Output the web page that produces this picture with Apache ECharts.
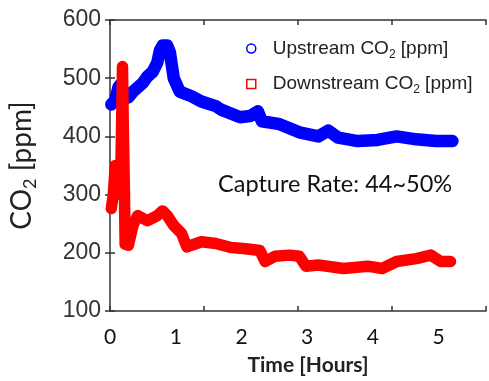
<!DOCTYPE html>
<html>
<head>
<meta charset="utf-8">
<script src="https://cdn.jsdelivr.net/npm/echarts@6.0.0/dist/echarts.min.js"></script>
<style>
  html, body { margin: 0; padding: 0; background: #fff; }
  #chart { width: 489px; height: 381px; }
</style>
</head>
<body>
<div id="chart"></div>
<script>
// time in hours, CO2 in ppm
const upstreamCO2 = [
  [0.02, 455], [0.08, 462], [0.13, 485], [0.16, 489], [0.23, 468], [0.28, 467],
  [0.35, 477], [0.50, 492], [0.57, 503], [0.65, 511], [0.72, 527], [0.76, 548],
  [0.80, 556], [0.87, 556], [0.91, 545], [0.97, 500], [1.06, 477], [1.24, 469],
  [1.39, 460], [1.61, 452], [1.69, 446], [1.98, 433], [2.13, 435], [2.25, 443],
  [2.31, 426], [2.58, 421], [2.88, 407], [3.17, 400], [3.32, 410], [3.47, 398],
  [3.77, 392], [4.07, 394], [4.36, 400], [4.66, 395], [4.96, 392], [5.21, 392]
];

const downstreamCO2 = [
  [0.02, 276], [0.05, 300], [0.08, 350], [0.13, 350], [0.16, 300], [0.19, 520],
  [0.20, 430], [0.22, 300], [0.23, 215], [0.28, 213], [0.35, 247], [0.42, 264],
  [0.57, 255], [0.72, 264], [0.80, 272], [0.87, 264], [0.97, 247], [1.09, 233],
  [1.17, 210], [1.24, 213], [1.39, 219], [1.61, 216], [1.84, 209], [2.06, 207],
  [2.28, 204], [2.36, 185], [2.51, 194], [2.73, 196], [2.88, 194], [2.98, 177],
  [3.17, 179], [3.55, 173], [3.92, 177], [4.14, 173], [4.36, 185], [4.66, 190],
  [4.88, 196], [5.03, 185], [5.18, 185]
];

const captureText = 'Capture Rate: 44~50%';

const axisColor = '#333';

const chart = echarts.init(document.getElementById('chart'));

// the frame's tick marks sit on their own grid of 4 equal steps
function frameAxis(pos) {
  return {
    type: 'value',
    position: pos,
    min: 0,
    max: 4,
    interval: 1,
    axisLine: { show: true, onZero: false, lineStyle: { color: axisColor, width: 1.5 } },
    axisTick: { show: true, inside: true, length: 5, lineStyle: { color: axisColor, width: 1.5 } },
    axisLabel: { show: false },
    splitLine: { show: false }
  };
}

const option = {
  animation: false,
  backgroundColor: '#fff',
  grid: {
    left: 106,
    top: 20,
    right: -2,
    bottom: 68,
    show: false
  },
  legend: {
    orient: 'vertical',
    left: 241,
    top: 34,
    itemWidth: 9,
    itemHeight: 9,
    itemGap: 14,
    textStyle: {
      fontFamily: 'Liberation Sans',
      fontSize: 19,
      color: '#222',
      rich: {
        a: { fontFamily: 'Liberation Sans', fontSize: 19, color: '#222' },
        p: { fontFamily: 'Liberation Sans', fontSize: 19, color: '#222', padding: [0, 0, 0, 12] },
        s: { fontFamily: 'Liberation Sans', fontSize: 12, color: '#222', padding: [12, 0, 0, 0] }
      }
    },
    formatter: function (name) {
      return '{p|' + name + ' CO}{s|2}{a| [ppm]}';
    },
    data: [
      { name: 'Upstream', icon: 'circle', itemStyle: { color: '#fff', borderColor: '#0000ff', borderWidth: 1.5 } },
      { name: 'Downstream', icon: 'rect', itemStyle: { color: '#fff', borderColor: '#ff0000', borderWidth: 1.5 } }
    ]
  },
  xAxis: [{
    type: 'value',
    min: 0,
    max: 5.72,
    interval: 1,
    name: 'Time [Hours]',
    nameLocation: 'middle',
    nameGap: 44,
    nameTextStyle: {
      fontFamily: 'Lato',
      fontSize: 21,
      fontWeight: 'bold',
      color: '#222',
      padding: [0, 0, 0, 20]
    },
    axisLine: { show: false },
    axisTick: { show: false },
    axisLabel: {
      margin: 16,
      fontFamily: 'Lato',
      fontSize: 21,
      color: '#111',
      formatter: function (v) { return Number.isInteger(v) ? String(v) : ''; }
    },
    splitLine: { show: false }
  }, frameAxis('bottom'), frameAxis('top')],
  yAxis: [{
    type: 'value',
    min: 100,
    max: 600,
    interval: 100,
    name: '{a|CO}{s|2}{a| [ppm]}',
    nameLocation: 'middle',
    nameGap: 71,
    nameTextStyle: {
      rich: {
        a: { fontFamily: 'Lato', fontSize: 28, color: '#222' },
        s: { fontFamily: 'Lato', fontSize: 18, color: '#222', padding: [16, 0, 0, 0] }
      }
    },
    axisLine: { show: true, lineStyle: { color: axisColor, width: 1.5 } },
    axisTick: { show: true, inside: true, length: 5, lineStyle: { color: axisColor, width: 1.5 } },
    axisLabel: {
      margin: 9,
      fontFamily: 'Liberation Sans',
      fontSize: 23,
      color: '#333'
    },
    splitLine: { show: false }
  }, {
    type: 'value',
    position: 'right',
    min: 100,
    max: 600,
    interval: 100,
    axisLine: { show: false },
    axisTick: { show: true, inside: true, length: 5, lineStyle: { color: axisColor, width: 1.5 } },
    axisLabel: { show: false },
    splitLine: { show: false }
  }],
  graphic: [{
    type: 'text',
    left: 218,
    top: 172,
    style: {
      text: captureText,
      fontFamily: 'Lato',
      fontSize: 23.5,
      fill: '#111'
    }
  }],
  series: [
    {
      name: 'Upstream',
      type: 'line',
      data: upstreamCO2,
      showSymbol: false,
      symbol: 'none',
      lineStyle: { color: '#0000ff', width: 12.5, join: 'round', cap: 'round' },
      itemStyle: { color: '#0000ff' }
    },
    {
      name: 'Downstream',
      type: 'line',
      data: downstreamCO2,
      showSymbol: false,
      symbol: 'none',
      lineStyle: { color: '#ff0000', width: 11.5, join: 'round', cap: 'round' },
      itemStyle: { color: '#ff0000' }
    }
  ]
};

chart.setOption(option);
window.addEventListener('resize', chart.resize);
</script>
</body>
</html>
